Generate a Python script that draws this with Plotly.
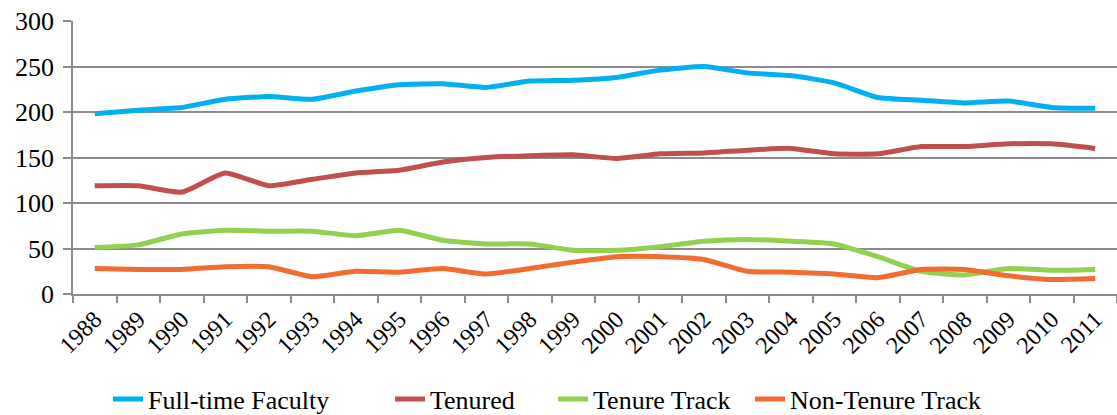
import plotly.graph_objects as go

years = [str(y) for y in range(1988, 2012)]
full_time = [198, 202, 205, 214, 217, 214, 223, 230, 231, 227, 234, 235, 238, 246, 250, 243, 240, 232, 216, 213, 210, 212, 205, 204]
tenured = [119, 119, 112, 133, 119, 126, 133, 136, 145, 150, 152, 153, 149, 154, 155, 158, 160, 154, 154, 162, 162, 165, 165, 160]
tenure_track = [51, 54, 66, 70, 69, 69, 64, 70, 59, 55, 55, 48, 48, 52, 58, 60, 58, 55, 41, 25, 21, 28, 26, 27]
non_tenure = [28, 27, 27, 30, 30, 19, 25, 24, 28, 22, 28, 35, 41, 41, 38, 25, 24, 22, 18, 27, 27, 20, 16, 17]

series_names = ["Full-time Faculty", "Tenured", "Tenure Track", "Non-Tenure Track"]
series_values = [full_time, tenured, tenure_track, non_tenure]
series_colors = ["#00B0F0", "#C0504D", "#92D050", "#F26B30"]
legend_ids = ["legend", "legend2", "legend3", "legend4"]
legend_x = [0.0335, 0.3036, 0.4598, 0.6485]

FONT = "Liberation Serif"

fig = go.Figure()
for name, vals, color, lid in zip(series_names, series_values, series_colors, legend_ids):
    fig.add_trace(go.Scatter(
        x=years, y=vals, name=name, mode="lines", legend=lid,
        line=dict(color=color, width=5, shape="spline", smoothing=0.5),
    ))

legend_common = dict(orientation="h", xanchor="left", y=-0.385, yanchor="middle",
                     font=dict(size=26, family=FONT, color="black"),
                     itemwidth=30, bgcolor="rgba(0,0,0,0)")
legends = {lid: dict(x=lx, **legend_common) for lid, lx in zip(legend_ids, legend_x)}

fig.update_layout(
    template="none",
    width=1117, height=415,
    margin=dict(l=73, r=0, t=21, b=121, autoexpand=False),
    plot_bgcolor="white", paper_bgcolor="white",
    font=dict(family=FONT, color="black", size=25),
    showlegend=True,
    **legends,
)
fig.update_xaxes(
    type="category", range=[-0.5, 23.5], tickson="boundaries",
    ticks="outside", ticklen=7, tickcolor="#8C8C8C", tickwidth=1.5,
    showline=True, linecolor="#8C8C8C", linewidth=1.5,
    showgrid=False, tickangle=-45, tickfont=dict(size=24, family=FONT, color="black"),
)
fig.update_yaxes(
    range=[0, 300], dtick=50, tick0=0,
    ticks="outside", ticklen=8, tickcolor="#8C8C8C", tickwidth=1.5,
    showline=True, linecolor="#8C8C8C", linewidth=1.5,
    showgrid=True, gridcolor="#8C8C8C", gridwidth=1.5,
    zeroline=False, tickfont=dict(size=26, family=FONT, color="black"),
    ticklabelstandoff=4,
)

fig.write_html("out.html", config={"displayModeBar": False},
               post_script="document.body.style.margin='0';")
